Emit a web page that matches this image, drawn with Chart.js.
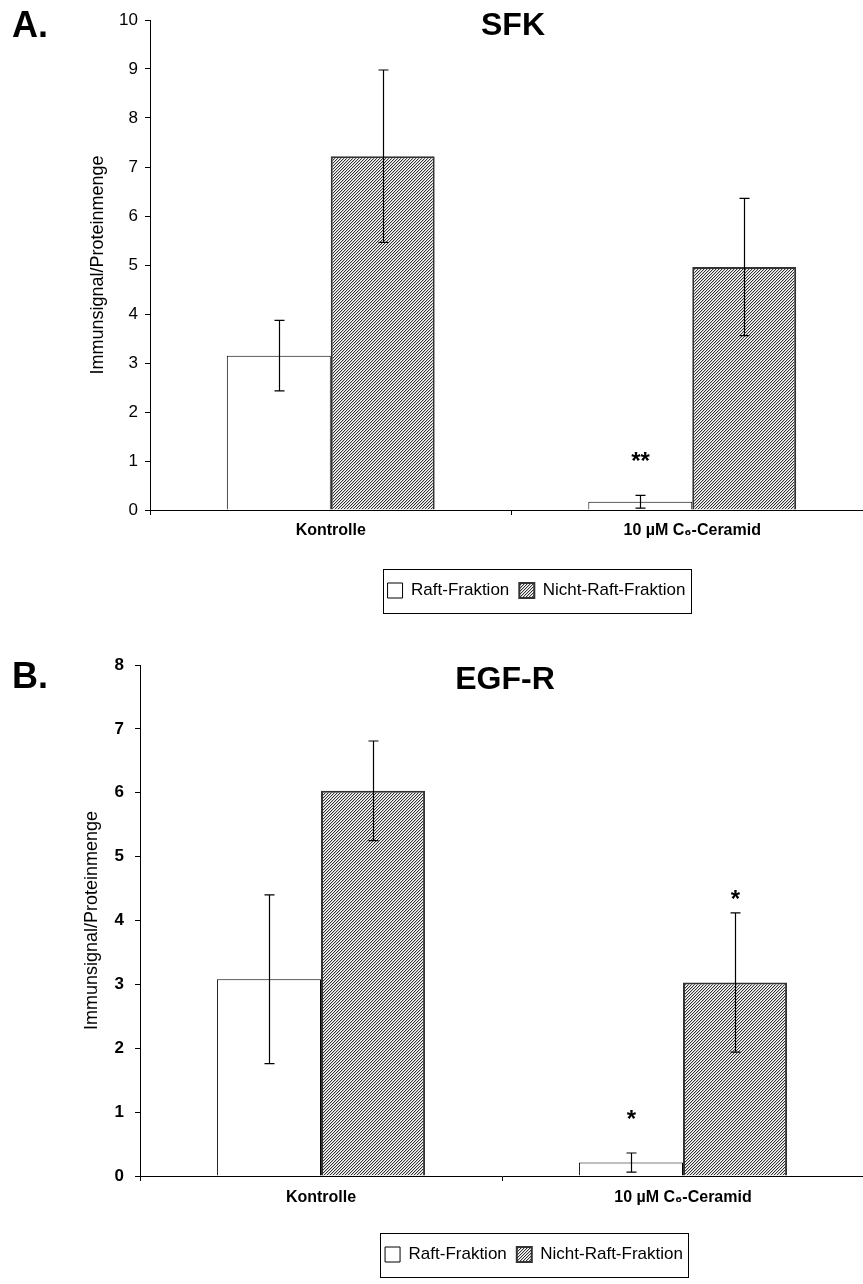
<!DOCTYPE html>
<html>
<head>
<meta charset="utf-8">
<script src="https://cdn.jsdelivr.net/npm/chart.js@4.4.1/dist/chart.umd.min.js"></script>
<style>
  html, body { margin: 0; padding: 0; background: #fff; overflow: hidden; }
  #wrap { width: 863px; height: 1284px; overflow: hidden; position: relative; }
  canvas { display: block; }
</style>
</head>
<body>
<div id="wrap">
  <canvas id="chartA" width="873" height="640"></canvas>
  <canvas id="chartB" width="864" height="644"></canvas>
</div>
<script>
// ---- data ----
const categories = ['Kontrolle', '10 µM C₆-Ceramid'];
const seriesNames = ['Raft-Fraktion', 'Nicht-Raft-Fraktion'];

// A. SFK
const sfkTicks = [0, 1, 2, 3, 4, 5, 6, 7, 8, 9, 10];
const sfkRaft = [3.15, 0.17];
const sfkRaftSd = [0.72, 0.13];
const sfkRaftSig = ['', '**'];
const sfkNonRaft = [7.22, 4.96];
const sfkNonRaftSd = [1.76, 1.40];
const sfkNonRaftSig = ['', ''];

// B. EGF-R
const egfTicks = [0, 1, 2, 3, 4, 5, 6, 7, 8];
const egfRaft = [3.08, 0.21];
const egfRaftSd = [1.32, 0.15];
const egfRaftSig = ['', '*'];
const egfNonRaft = [6.03, 3.03];
const egfNonRaftSd = [0.78, 1.09];
const egfNonRaftSig = ['', '*'];

const FONT = '"Liberation Sans", Arial, sans-serif';
Chart.defaults.font.family = FONT;
Chart.defaults.color = '#000';

// fine diagonal hatch, light grey on average
function hatch(ctx) {
    const c = document.createElement('canvas');
    c.width = 3; c.height = 3;
    const g = c.getContext('2d');
    const cols = ['#333', '#c8c8c8', '#fff'];
    for (let y = 0; y < 3; y++)
        for (let x = 0; x < 3; x++) {
            g.fillStyle = cols[(x + y) % 3];
            g.fillRect(x, y, 1, 1);
        }
    return ctx.createPattern(c, 'repeat');
}

// error bars + significance stars
const errorBars = {
    id: 'errorBars',
    afterDatasetsDraw(chart) {
        const ctx = chart.ctx;
        const ys = chart.scales.y;
        chart.data.datasets.forEach((ds, i) => {
            chart.getDatasetMeta(i).data.forEach((bar, j) => {
                const v = ds.data[j], sd = ds.sd[j];
                const top = ys.getPixelForValue(v + sd);
                const bot = ys.getPixelForValue(Math.max(0, v - sd));
                const x = Math.round(bar.x) + 0.5;
                ctx.save();
                ctx.strokeStyle = '#000';
                ctx.lineWidth = 1.2;
                ctx.beginPath();
                ctx.moveTo(x, top); ctx.lineTo(x, bot);
                ctx.moveTo(x - 5, top); ctx.lineTo(x + 5, top);
                ctx.moveTo(x - 5, bot); ctx.lineTo(x + 5, bot);
                ctx.stroke();
                if (ds.sig[j]) {
                    ctx.fillStyle = '#000';
                    ctx.font = 'bold 24px ' + FONT;
                    ctx.textAlign = 'center';
                    ctx.textBaseline = 'alphabetic';
                    ctx.fillText(ds.sig[j], x, top - ds.sigGap[j]);
                }
                ctx.restore();
            });
        });
    }
};

// shift legend sideways and frame it
const legendFrame = {
    id: 'legendFrame',
    afterLayout(chart) { chart.$legendShifted = false; },
    beforeDraw(chart, args, opts) {
        const lg = chart.legend;
        if (!chart.$legendShifted) {
            lg.left += opts.dx; lg.right += opts.dx;
            chart.$legendShifted = true;
        }
    },
    afterDraw(chart, args, opts) {
        const hb = chart.legend.legendHitBoxes;
        const ctx = chart.ctx;
        const l = Math.min(...hb.map(h => h.left)) + opts.dx - 5;
        const r = Math.max(...hb.map(h => h.left + h.width)) + opts.dx + 5;
        const cy = hb[0].top + hb[0].height / 2;
        ctx.save();
        ctx.strokeStyle = '#000';
        ctx.lineWidth = 1;
        ctx.strokeRect(Math.round(l) + 0.5, Math.round(cy - 22) + 0.5, Math.round(r - l), 44);
        ctx.restore();
    }
};

const panelText = {
    id: 'panelText',
    afterDraw(chart, args, opts) {
        const ctx = chart.ctx;
        ctx.save();
        ctx.fillStyle = '#000';
        ctx.textBaseline = 'middle';
        ctx.font = 'bold 36px ' + FONT;
        ctx.textAlign = 'left';
        ctx.fillText(opts.label, 12, opts.labelY);
        ctx.font = 'bold 32px ' + FONT;
        ctx.textAlign = 'center';
        ctx.fillText(opts.title, opts.titleX, opts.titleY);
        ctx.restore();
    }
};

function makeChart(id, p) {
    const ctx = document.getElementById(id).getContext('2d');
    return new Chart(ctx, {
        type: 'bar',
        data: {
            labels: categories,
            datasets: [{
                label: seriesNames[0],
                data: p.raft, sd: p.raftSd, sig: p.raftSig, sigGap: [26, 26],
                backgroundColor: '#fff',
                borderColor: '#000',
                borderWidth: 1
            }, {
                label: seriesNames[1],
                data: p.nonRaft, sd: p.nonRaftSd, sig: p.nonRaftSig, sigGap: [26, 6],
                backgroundColor: hatch(ctx),
                borderColor: '#333',
                borderWidth: 2
            }]
        },
        options: {
            responsive: false,
            animation: false,
            layout: { padding: { top: p.top, left: 0, right: 0, bottom: p.bottom } },
            datasets: { bar: { barPercentage: 1, categoryPercentage: 0.575 } },
            plugins: {
                tooltip: { enabled: false },
                legend: {
                    position: 'bottom',
                    labels: {
                        boxWidth: 15, boxHeight: 15, padding: 10,
                        font: { size: 17 }, color: '#000'
                    }
                },
                legendFrame: { dx: p.legendDx },
                panelText: { label: p.label, labelY: p.labelY, title: p.title, titleX: p.titleX, titleY: p.titleY }
            },
            scales: {
                x: {
                    grid: { offset: true, drawOnChartArea: false, tickLength: 5, tickColor: '#000' },
                    border: { color: '#000', width: 1 },
                    ticks: { font: { size: 16, weight: 'bold' }, color: '#000', padding: p.xPad, maxRotation: 0 },
                    afterFit: s => { s.height = p.xHeight; }
                },
                y: {
                    min: 0,
                    max: p.ticks[p.ticks.length - 1],
                    grid: { drawOnChartArea: false, tickLength: 5, tickColor: '#000' },
                    border: { color: '#000', width: 1 },
                    ticks: { font: { size: 17, weight: p.tickWeight }, color: '#000', padding: p.yPad },
                    afterBuildTicks: s => { s.ticks = p.ticks.map(v => ({ value: v })); },
                    title: {
                        display: true, text: 'Immunsignal/Proteinmenge',
                        font: { size: 18 }, color: '#000',
                        padding: { top: p.titlePad, bottom: 0 }
                    },
                    afterFit: s => { s.width = p.yWidth; }
                }
            }
        },
        plugins: [errorBars, legendFrame, panelText]
    });
}

makeChart('chartA', {
    raft: sfkRaft, raftSd: sfkRaftSd, raftSig: sfkRaftSig,
    nonRaft: sfkNonRaft, nonRaftSd: sfkNonRaftSd, nonRaftSig: sfkNonRaftSig,
    ticks: sfkTicks, tickWeight: 'normal',
    top: 20, bottom: 31, xHeight: 62, xPad: 6, yPad: 7, yWidth: 150, titlePad: 87,
    legendDx: 100,
    label: 'A.', labelY: 27, title: 'SFK', titleX: 513, titleY: 26
});

makeChart('chartB', {
    raft: egfRaft, raftSd: egfRaftSd, raftSig: egfRaftSig,
    nonRaft: egfNonRaft, nonRaftSd: egfNonRaftSd, nonRaftSig: egfNonRaftSig,
    ticks: egfTicks, tickWeight: 'bold',
    top: 25, bottom: 11, xHeight: 60, xPad: 7, yPad: 11, yWidth: 140, titlePad: 81,
    legendDx: 102,
    label: 'B.', labelY: 38, title: 'EGF-R', titleX: 505, titleY: 40
});
</script>
</body>
</html>
